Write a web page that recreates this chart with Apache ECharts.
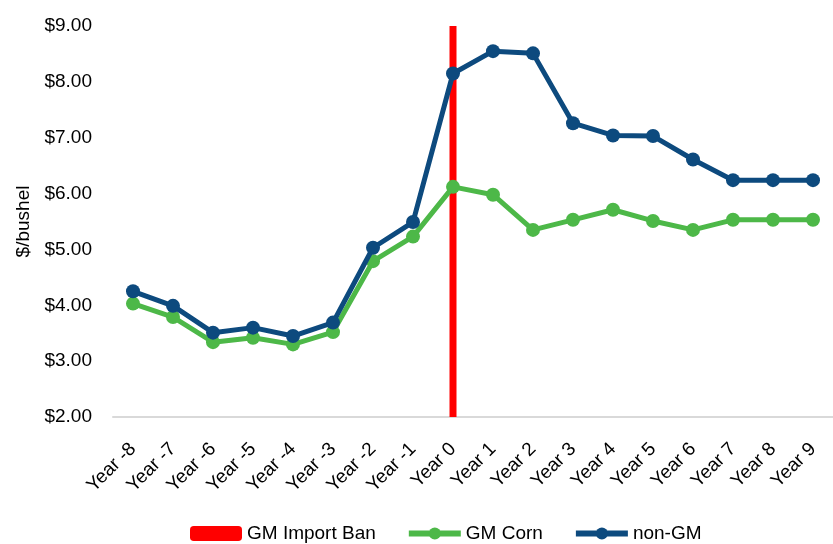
<!DOCTYPE html>
<html>
<head>
<meta charset="utf-8">
<script src="https://cdn.jsdelivr.net/npm/echarts@6/dist/echarts.min.js"></script>
<style>
  html, body { margin: 0; padding: 0; background: #fff; }
  #chart { width: 833px; height: 544px; }
</style>
</head>
<body>
<div id="chart"></div>
<script>
const years = ["Year -8", "Year -7", "Year -6", "Year -5", "Year -4", "Year -3", "Year -2", "Year -1",
  "Year 0", "Year 1", "Year 2", "Year 3", "Year 4", "Year 5", "Year 6", "Year 7", "Year 8", "Year 9"];
const gmCorn = [4.03, 3.79, 3.34, 3.42, 3.30, 3.52, 4.79, 5.23,
  6.12, 5.98, 5.35, 5.53, 5.71, 5.51, 5.35, 5.53, 5.53, 5.53];
const nonGM = [4.25, 3.99, 3.51, 3.60, 3.45, 3.69, 5.03, 5.49,
  8.15, 8.55, 8.51, 7.26, 7.04, 7.03, 6.61, 6.24, 6.24, 6.24];
// ban marker: a single bar at Year 0 reaching the top of the axis
const importBan = [null, null, null, null, null, null, null, null,
  9, null, null, null, null, null, null, null, null, null];

const font = "Liberation Sans, Arial, sans-serif";
const green = "#4db848";
const blue = "#0d4a7e";

const chart = echarts.init(document.getElementById("chart"), null, { renderer: "canvas" });

chart.setOption({
  animation: false,
  textStyle: { fontFamily: font },
  grid: { left: 113, right: -6, top: 26, bottom: 127, containLabel: false },
  legend: {
    left: 185,
    top: 519,
    itemWidth: 52,
    itemHeight: 15,
    itemGap: 30,
    textStyle: { fontFamily: font, fontSize: 19, color: "#000" },
    data: [
      { name: "GM Import Ban", itemStyle: { color: "#ff0000" } },
      { name: "GM Corn", lineStyle: { width: 6, color: green }, itemStyle: { color: green } },
      { name: "non-GM", lineStyle: { width: 6, color: blue }, itemStyle: { color: blue } }
    ]
  },
  xAxis: {
    type: "category",
    data: years,
    boundaryGap: true,
    axisLine: { show: true, lineStyle: { color: "#d9d9d9", width: 2 } },
    axisTick: { show: false },
    axisLabel: { rotate: 45, margin: 29, fontSize: 19, color: "#000", fontFamily: font, interval: 0 }
  },
  yAxis: {
    type: "value",
    min: 2,
    max: 9,
    interval: 1,
    name: "$/bushel",
    nameLocation: "middle",
    nameGap: 80,
    nameTextStyle: { fontSize: 19, color: "#000", fontFamily: font },
    axisLine: { show: false },
    axisTick: { show: false },
    splitLine: { show: false },
    axisLabel: {
      margin: 21, fontSize: 19, color: "#000", fontFamily: font,
      formatter: v => "$" + v.toFixed(2)
    }
  },
  series: [
    {
      name: "GM Import Ban",
      type: "bar",
      data: importBan,
      barWidth: 7,
      itemStyle: { color: "#ff0000" },
      z: 1
    },
    {
      name: "GM Corn",
      type: "line",
      data: gmCorn,
      symbol: "circle",
      symbolSize: 14,
      lineStyle: { color: green, width: 5 },
      itemStyle: { color: green },
      z: 2
    },
    {
      name: "non-GM",
      type: "line",
      data: nonGM,
      symbol: "circle",
      symbolSize: 14,
      lineStyle: { color: blue, width: 5 },
      itemStyle: { color: blue },
      z: 3
    }
  ]
});
</script>
</body>
</html>
